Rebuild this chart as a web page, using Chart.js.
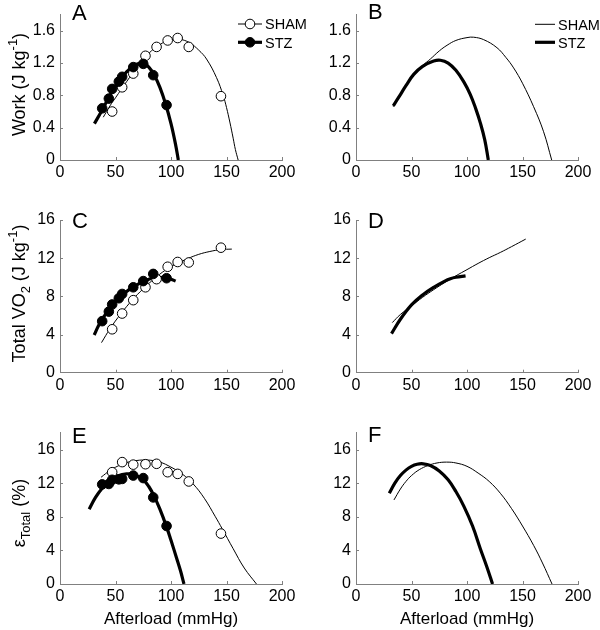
<!DOCTYPE html>
<html>
<head>
<meta charset="utf-8">
<script src="https://cdn.jsdelivr.net/npm/chart.js@4.4.1/dist/chart.umd.min.js"></script>
<style>
  body { margin: 0; background: #fff; }
  #wrap { position: relative; width: 600px; height: 630px; overflow: hidden; }
  #wrap canvas { position: absolute; }
</style>
</head>
<body>
<div id="wrap"></div>
<script>
// measured afterloads (mmHg)
const shamLoad = [47, 56, 66, 77, 87, 97, 106, 116, 145];
const stzLoad  = [38, 44, 47, 53, 56, 66, 75, 84, 96];

// measured values
const shamWork = [0.60, 0.90, 1.07, 1.29, 1.40, 1.48, 1.51, 1.40, 0.79];
const stzWork  = [0.64, 0.76, 0.88, 0.97, 1.03, 1.15, 1.19, 1.05, 0.68];
const shamVO2  = [4.55, 6.2, 7.6, 8.95, 9.8, 11.1, 11.6, 11.55, 13.1];
const stzVO2   = [5.4, 6.4, 7.15, 7.8, 8.25, 8.95, 9.6, 10.35, 9.9];
const shamEff  = [13.3, 14.5, 14.2, 14.25, 14.3, 13.3, 13.1, 12.2, 6.0];
const stzEff   = [11.85, 11.9, 12.4, 12.45, 12.5, 12.9, 12.6, 10.3, 6.9];

// fitted curves
const fitA_shamX = [39, 45, 50, 60, 70, 80, 90, 100, 105, 110, 117, 125, 132, 141, 147, 150, 153, 156, 158, 160.5];
const fitA_shamY = [0.53, 0.67, 0.77, 0.97, 1.16, 1.32, 1.43, 1.49, 1.50, 1.49, 1.45, 1.36, 1.25, 1.02, 0.80, 0.65, 0.47, 0.27, 0.13, 0];
const fitA_stzX  = [31, 38, 45, 50, 55, 60, 65, 70, 75, 80, 85, 90, 95, 100, 104, 106.6];
const fitA_stzY  = [0.45, 0.62, 0.80, 0.91, 1.01, 1.09, 1.15, 1.19, 1.20, 1.15, 1.05, 0.90, 0.70, 0.45, 0.20, 0];

const fitB_shamX = [33.6, 40, 45, 52, 60, 67, 75, 82, 90, 100, 106, 115, 127, 135, 142, 150, 160, 169, 176.3];
const fitB_shamY = [0.66, 0.81, 0.92, 1.06, 1.17, 1.25, 1.35, 1.42, 1.48, 1.515, 1.52, 1.49, 1.39, 1.27, 1.14, 0.95, 0.66, 0.35, 0];
const fitB_stzX  = [33.6, 40, 45, 52, 60, 70, 76, 83, 90, 97, 103, 108, 112, 116, 119.2];
const fitB_stzY  = [0.67, 0.81, 0.92, 1.06, 1.16, 1.225, 1.235, 1.20, 1.11, 0.97, 0.81, 0.63, 0.46, 0.25, 0];

const fitC_shamX = [37.4, 45, 55, 65, 75, 85, 95, 105, 115, 125, 135, 145, 154.8];
const fitC_shamY = [3.15, 4.6, 6.2, 7.6, 8.8, 9.85, 10.75, 11.4, 11.95, 12.4, 12.7, 12.9, 12.95];
const fitC_stzX  = [30.8, 35, 40, 45, 50, 55, 60, 65, 70, 75, 80, 85, 90, 95, 100, 104.2];
const fitC_stzY  = [3.95, 5.0, 5.95, 6.8, 7.45, 8.0, 8.5, 8.9, 9.25, 9.55, 9.8, 9.95, 10.0, 9.95, 9.8, 9.6];

const fitD_shamX = [32.7, 40, 50, 60, 70, 80, 90, 100, 110, 120, 130, 140, 152.9];
const fitD_shamY = [5.25, 6.1, 7.0, 7.9, 8.7, 9.45, 10.15, 10.8, 11.45, 12.05, 12.6, 13.2, 14.0];
const fitD_stzX  = [32, 40, 50, 60, 70, 80, 85, 90, 98.7];
const fitD_stzY  = [4.1, 5.6, 7.1, 8.15, 8.95, 9.6, 9.85, 10.0, 10.15];

const fitE_shamX = [37, 45, 55, 65, 78, 90, 100, 110, 120, 130, 140, 146, 156, 166, 177];
const fitE_shamY = [12.7, 13.5, 14.2, 14.6, 14.75, 14.5, 13.9, 13.1, 11.9, 10.2, 8.0, 6.6, 4.2, 1.9, 0];
const fitE_stzX  = [26.3, 32, 38, 45, 52, 60, 67, 75, 80, 85, 90, 96, 100, 105, 108.5, 111.7];
const fitE_stzY  = [8.9, 10.3, 11.4, 12.3, 12.85, 13.1, 13.0, 12.4, 11.6, 10.4, 8.9, 6.8, 5.2, 3.1, 1.6, 0];

const fitF_shamX = [34.2, 40, 45, 50, 57, 65, 73, 81.6, 90, 100, 110, 120, 130, 140, 150, 160, 168, 176.6];
const fitF_shamY = [10.0, 11.3, 12.2, 12.9, 13.6, 14.1, 14.4, 14.5, 14.4, 14.0, 13.2, 12.2, 10.8, 9.0, 6.9, 4.6, 2.5, 0];
const fitF_stzX  = [30, 35, 40, 45, 50, 55, 60.6, 67, 75, 83, 90, 97, 105, 112, 118, 123];
const fitF_stzY  = [10.8, 12.0, 12.9, 13.55, 14.0, 14.25, 14.3, 14.1, 13.45, 12.4, 11.0, 9.3, 6.9, 4.2, 2.0, 0];

// axis ticks
const xTicks = [0, 50, 100, 150, 200];
const workTicks = [0, 0.4, 0.8, 1.2, 1.6];
const bigTicks = [0, 4, 8, 12, 16];

const FONT = '"Liberation Sans", Arial, sans-serif';
const AXIS = '#808080';

function pts(xs, ys) { return xs.map((x, i) => ({ x: x, y: ys[i] })); }

function fitLine(xs, ys, thick) {
  return {
    data: pts(xs, ys), showLine: true, pointRadius: 0,
    borderColor: '#000', borderWidth: thick ? 3.2 : 1,
    tension: 0.4, fill: false, order: thick ? 2 : 3
  };
}
function marks(xs, ys, filled) {
  return {
    data: pts(xs, ys), showLine: false, pointRadius: 4.8,
    pointBackgroundColor: filled ? '#000' : '#fff',
    pointBorderColor: '#000', pointBorderWidth: 1, order: filled ? 0 : 1
  };
}

// rich text along a rotated baseline (sub / superscripts)
function drawRich(ctx, segs, cx, cy, size) {
  ctx.save();
  ctx.translate(cx, cy);
  ctx.rotate(-Math.PI / 2);
  let total = 0;
  segs.forEach(s => {
    const sz = s.sup || s.sub ? size * 0.72 : size;
    ctx.font = sz + 'px ' + FONT;
    s.w = ctx.measureText(s.t).width;
    s.sz = sz;
    total += s.w;
  });
  let u = -total / 2;
  ctx.textBaseline = 'alphabetic';
  ctx.textAlign = 'left';
  segs.forEach(s => {
    ctx.font = s.sz + 'px ' + FONT;
    const v = s.sup ? -size * 0.42 : (s.sub ? size * 0.3 : 0);
    ctx.fillText(s.t, u, v);
    u += s.w;
  });
  ctx.restore();
}

const decor = {
  id: 'decor',
  afterDraw(chart, args, o) {
    const ctx = chart.ctx, a = chart.chartArea;
    const sx = chart.scales.x, sy = chart.scales.y;
    ctx.save();
    // small inward tick marks
    ctx.strokeStyle = AXIS;
    ctx.lineWidth = 1;
    ctx.beginPath();
    sx.ticks.forEach(t => {
      if (t.value <= 0) return;
      const p = Math.round(sx.getPixelForValue(t.value)) + 0.5;
      ctx.moveTo(p, a.bottom); ctx.lineTo(p, a.bottom - 3);
    });
    sy.ticks.forEach(t => {
      if (t.value <= 0) return;
      const p = Math.round(sy.getPixelForValue(t.value)) + 0.5;
      ctx.moveTo(a.left, p); ctx.lineTo(a.left + 3, p);
    });
    ctx.stroke();

    ctx.fillStyle = '#000';
    ctx.font = '22px ' + FONT;
    ctx.textAlign = 'left';
    ctx.textBaseline = 'alphabetic';
    ctx.fillText(o.letter, o.letterX, o.letterY);

    if (o.yTitle) drawRich(ctx, o.yTitle, o.yTitleX, o.yTitleY, 18);

    if (o.xTitle) {
      ctx.font = '17px ' + FONT;
      ctx.textAlign = 'center';
      ctx.fillText(o.xTitle, (a.left + a.right) / 2, o.xTitleY);
    }

    if (o.legend) {
      const L = o.legend;
      L.items.forEach((it, i) => {
        const y = L.y + i * L.gap;
        ctx.strokeStyle = '#000';
        ctx.lineWidth = it.thick ? 3.2 : 1;
        ctx.beginPath();
        ctx.moveTo(L.x1, y); ctx.lineTo(L.x2, y);
        ctx.stroke();
        if (L.marker) {
          ctx.beginPath();
          ctx.arc((L.x1 + L.x2) / 2, y, 4.8, 0, Math.PI * 2);
          ctx.fillStyle = it.thick ? '#000' : '#fff';
          ctx.fill();
          ctx.lineWidth = 1;
          ctx.stroke();
        }
        ctx.fillStyle = '#000';
        ctx.font = '14.5px ' + FONT;
        ctx.textAlign = 'left';
        ctx.fillText(it.label, L.tx, y + 5.2);
      });
    }
    ctx.restore();
  }
};

const workTitle = [{ t: 'Work (J kg' }, { t: '-1', sup: true }, { t: ')' }];
const vo2Title = [{ t: 'Total VO' }, { t: '2', sub: true }, { t: ' (J kg' }, { t: '-1', sup: true }, { t: ')' }];
const effTitle = [{ t: '\u03B5' }, { t: 'Total', sub: true }, { t: ' (%)' }];

const panels = [
  { left: 0, top: 0, w: 310, h: 200, yW: 60, padR: 28, padT: 7, xH: 40, yMax: 1.8, yTicks: workTicks,
    sets: [fitLine(fitA_shamX, fitA_shamY, false), fitLine(fitA_stzX, fitA_stzY, true),
           marks(shamLoad, shamWork, false), marks(stzLoad, stzWork, true)],
    deco: { letter: 'A', letterX: 72, letterY: 20, yTitle: workTitle, yTitleX: 25, yTitleY: 84.5,
            legend: { x1: 238, x2: 262, tx: 265, y: 24, gap: 18.3, marker: true,
                      items: [{ label: 'SHAM' }, { label: 'STZ', thick: true }] } } },
  { left: 300, top: 0, w: 300, h: 200, yW: 56, padR: 22, padT: 7, xH: 40, yMax: 1.8, yTicks: workTicks,
    sets: [fitLine(fitB_shamX, fitB_shamY, false), fitLine(fitB_stzX, fitB_stzY, true)],
    deco: { letter: 'B', letterX: 68, letterY: 19,
            legend: { x1: 235, x2: 255, tx: 258, y: 24.3, gap: 18, marker: false,
                      items: [{ label: 'SHAM' }, { label: 'STZ', thick: true }] } } },
  { left: 0, top: 200, w: 310, h: 210, yW: 60, padR: 28, padT: 20, xH: 37.3, yMax: 16, yTicks: bigTicks,
    sets: [fitLine(fitC_shamX, fitC_shamY, false), fitLine(fitC_stzX, fitC_stzY, true),
           marks(shamLoad, shamVO2, false), marks(stzLoad, stzVO2, true)],
    deco: { letter: 'C', letterX: 72, letterY: 28, yTitle: vo2Title, yTitleX: 25, yTitleY: 93.5 } },
  { left: 300, top: 200, w: 300, h: 210, yW: 56, padR: 22, padT: 20, xH: 37.3, yMax: 16, yTicks: bigTicks,
    sets: [fitLine(fitD_shamX, fitD_shamY, false), fitLine(fitD_stzX, fitD_stzY, true)],
    deco: { letter: 'D', letterX: 68, letterY: 28 } },
  { left: 0, top: 410, w: 310, h: 220, yW: 60, padR: 28, padT: 22.7, xH: 46, yMax: 18, yTicks: bigTicks,
    sets: [fitLine(fitE_shamX, fitE_shamY, false), fitLine(fitE_stzX, fitE_stzY, true),
           marks(shamLoad, shamEff, false), marks(stzLoad, stzEff, true)],
    deco: { letter: 'E', letterX: 72, letterY: 33, yTitle: effTitle, yTitleX: 25, yTitleY: 103,
            xTitle: 'Afterload (mmHg)', xTitleY: 214 } },
  { left: 300, top: 410, w: 300, h: 220, yW: 56, padR: 22, padT: 22.7, xH: 46, yMax: 18, yTicks: bigTicks,
    sets: [fitLine(fitF_shamX, fitF_shamY, false), fitLine(fitF_stzX, fitF_stzY, true)],
    deco: { letter: 'F', letterX: 68, letterY: 32, xTitle: 'Afterload (mmHg)', xTitleY: 214 } }
];

const wrap = document.getElementById('wrap');
panels.forEach(p => {
  const cv = document.createElement('canvas');
  cv.width = p.w; cv.height = p.h;
  cv.style.left = p.left + 'px'; cv.style.top = p.top + 'px';
  cv.style.width = p.w + 'px'; cv.style.height = p.h + 'px';
  wrap.appendChild(cv);

  new Chart(cv.getContext('2d'), {
    type: 'line',
    data: { datasets: p.sets },
    plugins: [decor],
    options: {
      responsive: false, animation: false, events: [],
      layout: { padding: { left: 0, right: p.padR, top: p.padT, bottom: 0 } },
      plugins: { legend: { display: false }, tooltip: { enabled: false }, decor: p.deco },
      scales: {
        x: {
          type: 'linear', min: 0, max: 200,
          grid: { display: false, drawTicks: false },
          border: { display: true, color: AXIS, width: 1 },
          ticks: { color: '#000', font: { family: FONT, size: 16 }, padding: 3, autoSkip: false, maxRotation: 0 },
          afterBuildTicks: s => { s.ticks = xTicks.map(v => ({ value: v })); },
          afterFit: s => { s.height = p.xH; }
        },
        y: {
          type: 'linear', min: 0, max: p.yMax,
          grid: { display: false, drawTicks: false },
          border: { display: true, color: AXIS, width: 1 },
          ticks: { color: '#000', font: { family: FONT, size: 16 }, padding: 5,
                   callback: v => (p.yMax < 5 && v !== 0 ? v.toFixed(1) : String(v)) },
          afterBuildTicks: s => { s.ticks = p.yTicks.map(v => ({ value: v })); },
          afterFit: s => { s.width = p.yW; }
        }
      }
    }
  });
});
</script>
</body>
</html>
